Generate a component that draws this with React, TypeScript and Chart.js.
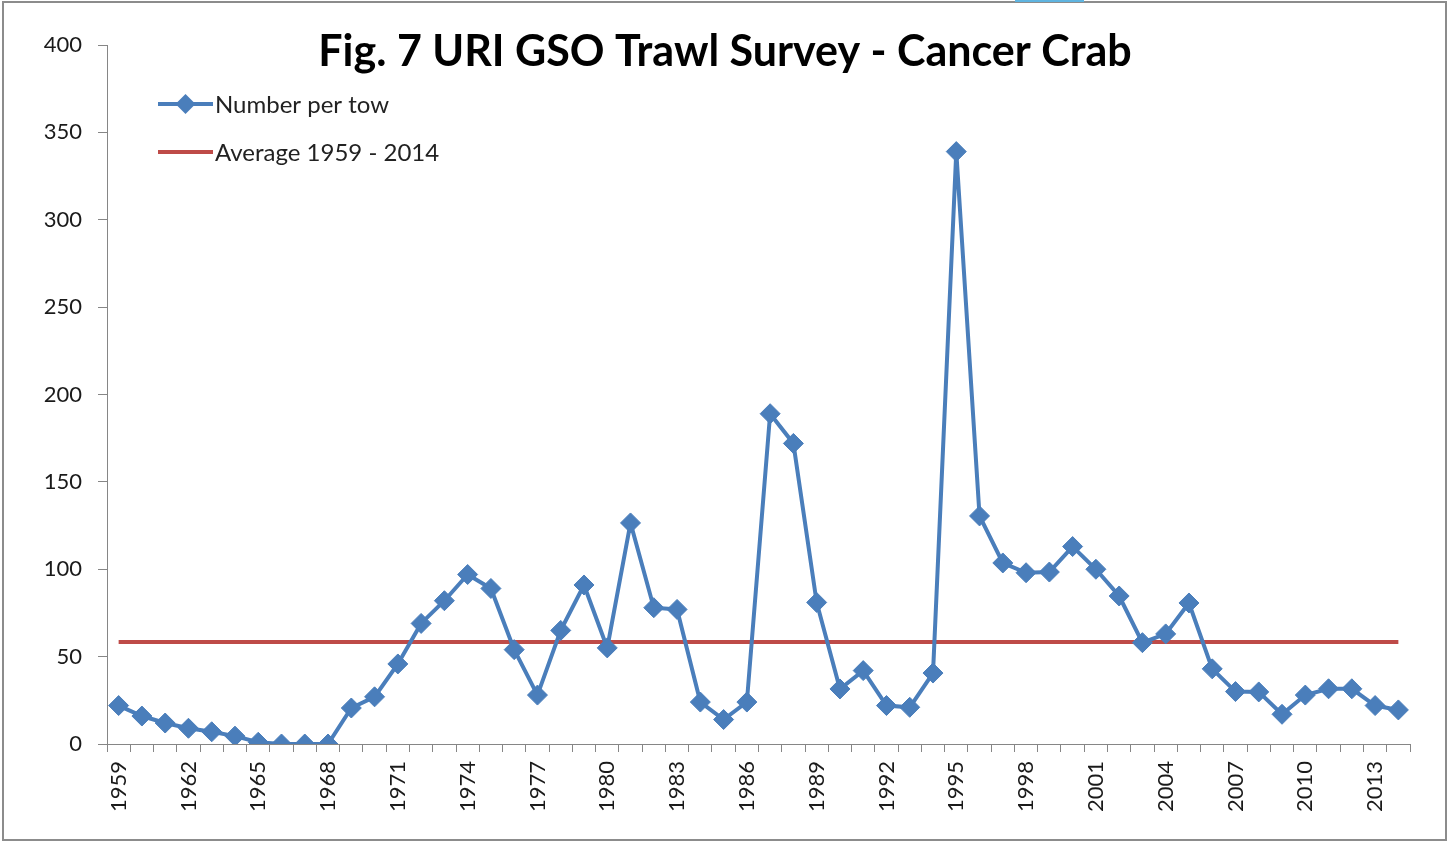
import React, { useEffect, useRef } from "react";
import { Chart, registerables } from "chart.js";

Chart.register(...registerables);

const titleText = "Fig. 7 URI GSO Trawl Survey - Cancer Crab";

const years = [
  "1959", "1960", "1961", "1962", "1963", "1964", "1965", "1966", "1967", "1968",
  "1969", "1970", "1971", "1972", "1973", "1974", "1975", "1976", "1977", "1978",
  "1979", "1980", "1981", "1982", "1983", "1984", "1985", "1986", "1987", "1988",
  "1989", "1990", "1991", "1992", "1993", "1994", "1995", "1996", "1997", "1998",
  "1999", "2000", "2001", "2002", "2003", "2004", "2005", "2006", "2007", "2008",
  "2009", "2010", "2011", "2012", "2013", "2014",
];

const numberPerTow = [
  22, 16, 12, 9, 7, 4.5, 1, 0, 0, 0,
  20.6, 27, 45.8, 69, 82, 97, 89, 54, 28, 65,
  91, 55, 126.5, 78, 77, 24, 14, 24, 189, 172,
  81, 31.5, 42, 22, 21, 40.6, 339, 130.5, 103.6, 98,
  98.4, 113, 100, 84.7, 58, 63, 80.7, 43, 30, 29.8,
  17, 28, 31.6, 31.6, 22, 19.5,
];

const averageLine = [
  { x: "1959", y: 58.3 },
  { x: "2014", y: 58.3 },
];

const seriesLabels = ["Number per tow", "Average 1959 - 2014"];
const yTickValues = [0, 50, 100, 150, 200, 250, 300, 350, 400];
const xLabelEvery = 3;

const BLUE = "#4a7ebb";
const RED = "#be4b48";
const AXIS = "#868686";
const FONT = "Lato, 'Open Sans', sans-serif";

const overlayPlugin = {
  id: "overlay",
  afterDraw(chart: any) {
    const { ctx, chartArea } = chart;
    ctx.save();
    // title
    ctx.font = `bold 43px ${FONT}`;
    ctx.fillStyle = "#000";
    ctx.textAlign = "center";
    ctx.textBaseline = "middle";
    ctx.fillText(titleText, 725, 52);

    // legend
    const x0 = chartArea.left + 51;
    const lineLen = 55;
    const rows = [chartArea.top + 59, chartArea.top + 107];
    chart.data.datasets.forEach((ds: any, i: number) => {
      const y = rows[i];
      ctx.strokeStyle = ds.borderColor;
      ctx.lineWidth = ds.borderWidth;
      ctx.beginPath();
      ctx.moveTo(x0, y);
      ctx.lineTo(x0 + lineLen, y);
      ctx.stroke();
      if (ds.pointRadius > 0) {
        const r = ds.pointRadius;
        const cx = x0 + lineLen / 2;
        ctx.fillStyle = ds.pointBackgroundColor;
        ctx.beginPath();
        ctx.moveTo(cx, y - r);
        ctx.lineTo(cx + r, y);
        ctx.lineTo(cx, y + r);
        ctx.lineTo(cx - r, y);
        ctx.closePath();
        ctx.fill();
      }
      ctx.font = `24px ${FONT}`;
      ctx.fillStyle = "#222";
      ctx.textAlign = "left";
      ctx.textBaseline = "middle";
      ctx.fillText(ds.label, x0 + lineLen + 2, y + 1);
    });
    ctx.restore();
  },
};

export default function App() {
  const canvasRef = useRef<HTMLCanvasElement | null>(null);

  useEffect(() => {
    document.body.style.margin = "0";
    const canvas = canvasRef.current;
    if (!canvas) return;
    const chart = new Chart(canvas, {
      type: "line",
      data: {
        labels: years,
        datasets: [
          {
            label: seriesLabels[0],
            data: numberPerTow,
            borderColor: BLUE,
            backgroundColor: BLUE,
            borderWidth: 4,
            pointStyle: "rectRot",
            pointRadius: 10,
            pointBorderWidth: 1,
            pointBackgroundColor: BLUE,
            pointBorderColor: BLUE,
            tension: 0,
            order: 1,
          },
          {
            label: seriesLabels[1],
            data: averageLine as any,
            borderColor: RED,
            backgroundColor: RED,
            borderWidth: 4,
            pointRadius: 0,
            tension: 0,
            order: 2,
          },
        ],
      },
      options: {
        animation: false,
        responsive: false,
        layout: { padding: { left: 0, top: 45, right: 38, bottom: 0 } },
        plugins: {
          legend: { display: false },
          title: { display: false },
          tooltip: { enabled: false },
        },
        scales: {
          x: {
            type: "category",
            offset: true,
            grid: {
              display: true,
              drawOnChartArea: false,
              drawTicks: true,
              tickLength: 8,
              color: AXIS,
              offset: true,
            },
            border: { display: true, color: AXIS, width: 1 },
            ticks: {
              autoSkip: false,
              maxRotation: 90,
              minRotation: 90,
              padding: 9,
              color: "#1a1a1a",
              font: { family: FONT, size: 22 },
              callback: (_v: any, i: number) => (i % xLabelEvery === 0 ? years[i] : ""),
            },
            afterFit: (s: any) => {
              s.height = 98;
            },
          },
          y: {
            min: yTickValues[0],
            max: yTickValues[yTickValues.length - 1],
            grid: {
              display: true,
              drawOnChartArea: false,
              drawTicks: true,
              tickLength: 9,
              color: AXIS,
            },
            border: { display: true, color: AXIS, width: 1 },
            ticks: {
              stepSize: 50,
              padding: 16,
              color: "#1a1a1a",
              font: { family: FONT, size: 22 },
            },
            afterBuildTicks: (s: any) => {
              s.ticks = yTickValues.map((v) => ({ value: v }));
            },
            afterFit: (s: any) => {
              s.width = 107;
            },
          },
        },
      },
      plugins: [overlayPlugin],
    });
    return () => chart.destroy();
  }, []);

  return (
    <div style={{ position: "relative", width: 1448, height: 842, background: "#fff" }}>
      <canvas ref={canvasRef} width={1448} height={842} style={{ display: "block" }} />
      <div
        style={{
          position: "absolute",
          left: 2,
          top: 1,
          width: 1445,
          height: 840,
          boxSizing: "border-box",
          border: "2px solid #8c8c8c",
          pointerEvents: "none",
        }}
      />
      <div
        style={{
          position: "absolute",
          left: 1015,
          top: 0,
          width: 69,
          height: 2,
          background: "#5fb4e0",
          pointerEvents: "none",
        }}
      />
    </div>
  );
}
